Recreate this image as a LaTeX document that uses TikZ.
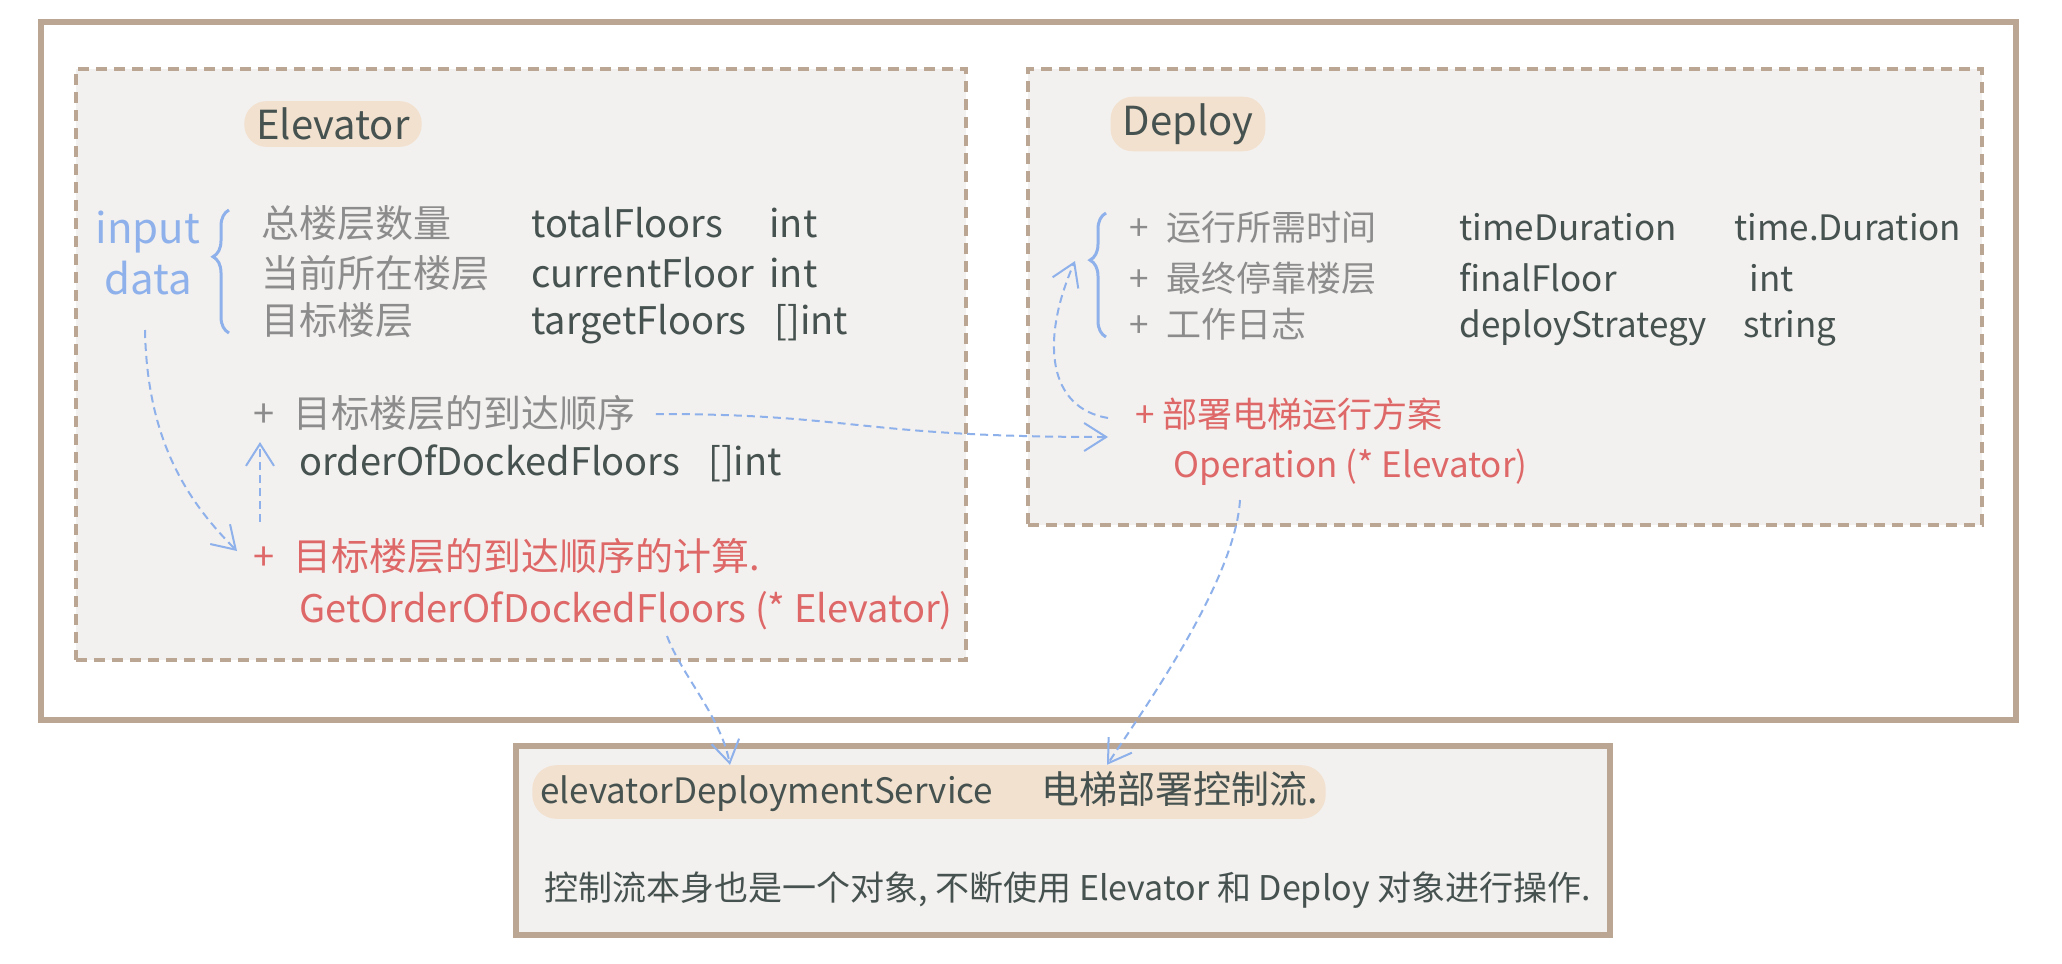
\documentclass[tikz,border=0pt]{standalone}
\usepackage{fontspec}
\setmainfont{Noto Sans CJK SC}
\usetikzlibrary{positioning,arrows.meta,calc,decorations.pathreplacing}
\definecolor{FrameTan}{HTML}{BBA693}
\definecolor{BoxFill}{HTML}{F3F1EF}
\definecolor{PillFill}{HTML}{F2E1CF}
\definecolor{InkDark}{HTML}{46524F}
\definecolor{InkGray}{HTML}{8C8C8C}
\definecolor{InkRed}{HTML}{DE6767}
\definecolor{InkBlue}{HTML}{8EB1EB}

\begin{document}
\begin{tikzpicture}[x=0.5pt, y=-0.5pt,
  outerframe/.style={draw=FrameTan, line width=3pt, inner sep=0pt},
  clsbox/.style={draw=FrameTan, line width=2pt, dash pattern=on 5.5pt off 3.5pt, fill=BoxFill, inner sep=0pt},
  svcbox/.style={draw=FrameTan, line width=3pt, fill=BoxFill, inner sep=0pt},
  titlepill/.style={fill=PillFill, rounded corners=11pt, text=InkDark, inner xsep=6pt, minimum height=22pt, font=\fontsize{20}{24}\selectfont},
  field/.style={anchor=base west, inner sep=0pt, text=InkDark, font=\fontsize{19}{23}\selectfont},
  cnfield/.style={field, text=InkGray},
  redfield/.style={field, text=InkRed},
  dfield/.style={field, font=\fontsize{17.5}{21}\selectfont},
  flowarrow/.style={draw=InkBlue, line width=1pt, dash pattern=on 4pt off 2.5pt, -{Straight Barb[length=11pt, width=14pt]}},
  curly/.style={draw=InkBlue, line width=1.5pt, decorate, decoration={brace, amplitude=8pt, aspect=0.62}}]
\path[use as bounding box, fill=white] (0,0) rectangle (2062,964);

% frames
\node[outerframe, minimum width=987.5pt, minimum height=349pt] (outer) at (1028.5,371) {};
\node[clsbox, minimum width=445pt, minimum height=295.5pt] (elevBox) at (521,364.5) {};
\node[clsbox, minimum width=477pt, minimum height=228pt] (deployBox) at (1505,297) {};
\node[svcbox, minimum width=547pt, minimum height=94.5pt] (svcBox) at (1063,840.5) {};

% Elevator
\node[titlepill, minimum width=86pt] (elevTitle) at (333,124) {Elevator};
\node[text=InkBlue, align=center, inner sep=0pt, font=\fontsize{21}{25.5}\selectfont] (inputLbl) at (148,253) {input\\data};
\coordinate (elevBraceTop) at (229,210);
\coordinate (elevBraceBot) at (229,333);
\draw[curly] (elevBraceBot) -- (elevBraceTop);
\node[cnfield] (elevCn1) at (261,237) {总楼层数量};
\node[cnfield] (elevCn2) at (261,287) {当前所在楼层};
\node[cnfield] (elevCn3) at (261,334) {目标楼层};
\node[field] (elevVar1) at (531,237) {totalFloors};
\node[field] (elevVar2) at (531,287) {currentFloor};
\node[field] (elevVar3) at (531,334) {targetFloors};
\node[field] (elevType1) at (769,237) {int};
\node[field] (elevType2) at (769,287) {int};
\node[field] (elevType3) at (774,334) {[]int};
\node[cnfield] (elevField) at (253,427) {+\enspace 目标楼层的到达顺序};
\node[field] (elevFieldVar) at (299,475) {orderOfDockedFloors\hspace{14pt}[]int};
\node[redfield] (elevCalc) at (253,570) {+\enspace 目标楼层的到达顺序的计算.};
\node[redfield] (elevSig) at (299,622) {GetOrderOfDockedFloors (* Elevator)};

% Deploy
\node[titlepill, minimum width=73pt] (deployTitle) at (1188,124) {Deploy};
\coordinate (deployBraceTop) at (1106,213);
\coordinate (deployBraceBot) at (1106,337);
\coordinate (deployBraceTip) at (1089,260);
\draw[curly] (deployBraceBot) -- (deployBraceTop);
\node[dfield, text=InkGray] (deployCn1) at (1129,240) {+\enspace 运行所需时间};
\node[dfield, text=InkGray] (deployCn2) at (1129,291) {+\enspace 最终停靠楼层};
\node[dfield, text=InkGray] (deployCn3) at (1129,337) {+\enspace 工作日志};
\node[dfield] (deployVar1) at (1459,240) {timeDuration};
\node[dfield] (deployVar2) at (1459,291) {finalFloor};
\node[dfield] (deployVar3) at (1459,337) {deployStrategy};
\node[dfield] (deployType1) at (1734,240) {time.Duration};
\node[dfield] (deployType2) at (1749,291) {int};
\node[dfield] (deployType3) at (1743,337) {string};
\node[dfield, text=InkRed] (deployOp) at (1135,427) {+ 部署电梯运行方案};
\node[dfield, text=InkRed] (deploySig) at (1173,477) {Operation (* Elevator)};

% service
\node[titlepill, minimum width=392pt, minimum height=24.5pt, rounded corners=12pt, inner xsep=4pt, font=\fontsize{19}{23}\selectfont] (svcPill) at (929,792) {{\fontsize{17.5}{23}\selectfont elevatorDeploymentService}\hspace{24pt}电梯部署控制流.};
\node[field, font=\fontsize{17}{21}\selectfont] (svcNote) at (544,900) {控制流本身也是一个对象, 不断使用 Elevator 和 Deploy 对象进行操作.};

% flows
\draw[flowarrow] ($(inputLbl.center)+(-3,77)$) .. controls +(2,110) and +(-50,-50) .. ($(elevCalc.base west)+(-16,-19)$);
\draw[flowarrow] ($(elevCalc.base west)+(7,-48)$) -- ($(elevField.base west)+(7,15)$);
\draw[flowarrow] ($(elevField.base east)+(20,-13)$) .. controls +(200,0) and +(-250,0) .. ($(deployOp.base west)+(-27,10)$);
\draw[flowarrow] ($(deployOp.base west)+(-27,-9)$) .. controls +(-60,-10) and +(-35,80) .. ($(deployBraceTip)+(-14,1)$);
\draw[flowarrow] ($(elevSig.base west)+(368,14)$) .. controls +(15,40) and +(-10,-50) .. ($(svcPill.north)+(-199,0)$);
\draw[flowarrow] ($(deploySig.base west)+(67,23)$) .. controls +(-5,80) and +(40,-60) .. ($(svcPill.north)+(178,0)$);
\end{tikzpicture}
\end{document}
